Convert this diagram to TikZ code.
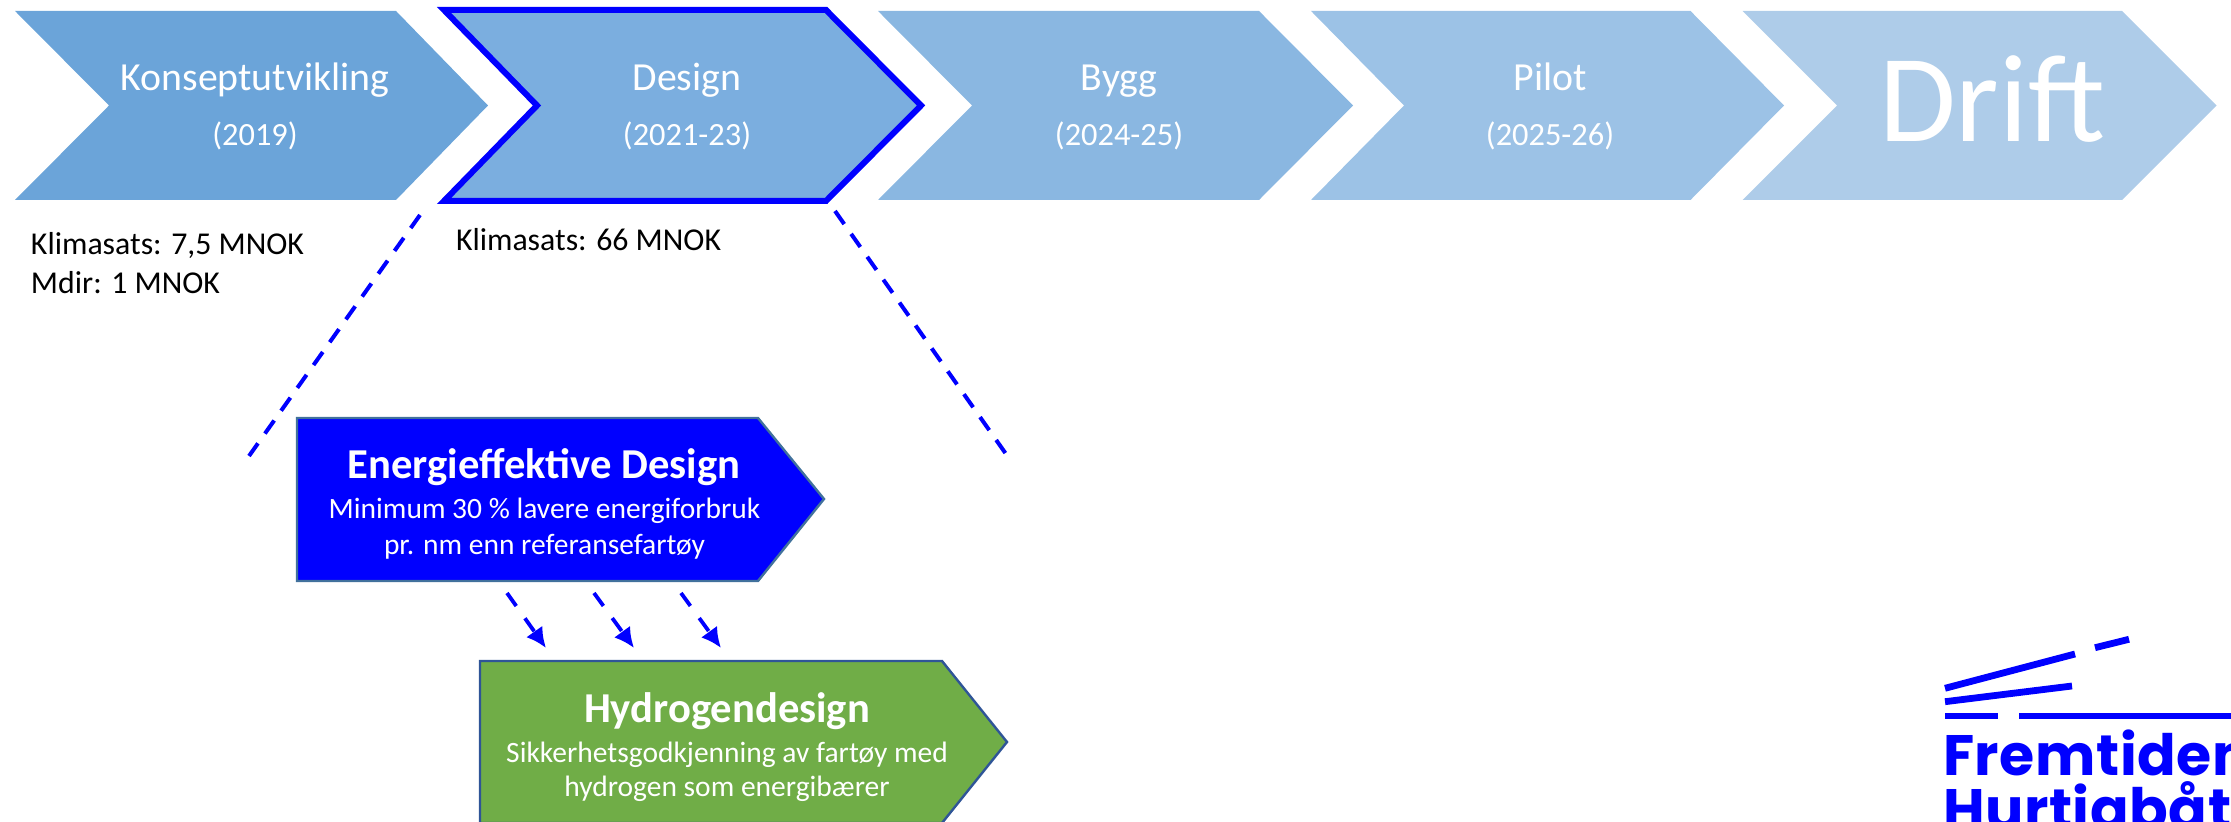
\documentclass[tikz,border=0pt]{standalone}
\usepackage{fontspec}
\setmainfont{Carlito}
\newfontfamily\logofont[LetterSpace=1]{Poppins}
\usetikzlibrary{arrows.meta}
\definecolor{cA}{HTML}{6BA4D9}
\definecolor{cB}{HTML}{7BAEDF}
\definecolor{cC}{HTML}{8AB7E1}
\definecolor{cD}{HTML}{9CC2E6}
\definecolor{cE}{HTML}{AECCE9}
\definecolor{cG}{HTML}{70AD47}
\definecolor{pureblue}{HTML}{0000FF}
\definecolor{edgeA}{HTML}{41719C}
\definecolor{edgeB}{HTML}{2F5597}
\tikzset{
  x=0.5pt,y=-0.5pt,
  white text/.style={text=white,anchor=base,inner sep=0pt,outer sep=0pt},
  head/.style={white text,font=\fontsize{19.9}{19.9}\selectfont},
  years/.style={white text,font=\fontsize{16.2}{16.2}\selectfont},
  ttl/.style={white text,font=\fontsize{21.3}{21.3}\selectfont\bfseries},
  subt/.style={white text,font=\fontsize{14.75}{14.75}\selectfont},
  note/.style={text=black,anchor=base west,inner sep=0pt,outer sep=0pt,font=\fontsize{15.9}{15.9}\selectfont},
  zoomline/.style={draw=pureblue,line width=2pt,dash pattern=on 8pt off 6pt},
  flow/.style={draw=pureblue,line width=1.9pt,dash pattern=on 8pt off 7.5pt,-{Latex[length=10pt,width=10pt]}},
  logobar/.style={draw=pureblue,line width=3.4pt},
  logotext/.style={text=pureblue,anchor=base west,inner sep=0pt,outer sep=0pt,font=\logofont\bfseries\fontsize{28.5}{28.5}\selectfont},
}
\begin{document}
\begin{tikzpicture}
\useasboundingbox (0,0) rectangle (2231,822);
\clip (0,0) rectangle (2231,822);
% chevrons
\fill[cA] (15,11) -- (396,11) -- (488,105.5) -- (396,200) -- (15,200) -- (109,105.5) -- cycle;
\filldraw[fill=cB,draw=pureblue,line width=3pt,miter limit=10] (444,10) -- (826,10) -- (921,105.5) -- (826,201) -- (444,201) -- (537,105.5) -- cycle;
\fill[cC] (878,11) -- (1259,11) -- (1353,105.5) -- (1259,200) -- (878,200) -- (972,105.5) -- cycle;
\fill[cD] (1311,11) -- (1690.5,11) -- (1784,105.5) -- (1690.5,200) -- (1311,200) -- (1404,105.5) -- cycle;
\fill[cE] (1742.5,11) -- (2122,11) -- (2216.5,105.5) -- (2122,200) -- (1742.5,200) -- (1837,105.5) -- cycle;
% chevron texts
\node[head]  (konsept)  at (255,91) {Konseptutvikling};
\node[years] (konseptY) at (255,146) {(2019)};
\node[head]  (design)   at (687,91) {Design};
\node[years] (designY)  at (687,146) {(2021-23)};
\node[head]  (bygg)     at (1119,91) {Bygg};
\node[years] (byggY)    at (1119,146) {(2024-25)};
\node[head]  (pilot)    at (1550,91) {Pilot};
\node[years] (pilotY)   at (1550,146) {(2025-26)};
\node[white text,font=\fontsize{62.4}{62.4}\selectfont] (drift) at (1992,142) {Drift};
% funding notes
\node[note] (noteA) at (31,255) {Klimasats: 7,5 MNOK};
\node[note] (noteB) at (31,294) {Mdir: 1 MNOK};
\node[note] (noteC) at (456,251) {Klimasats: 66 MNOK};
% zoom lines
\coordinate (zlA) at (420,215);
\coordinate (zlB) at (249,456);
\coordinate (zrA) at (835,211);
\coordinate (zrB) at (1006,454);
\draw[zoomline] (zlA) -- (zlB);
\draw[zoomline] (zrA) -- (zrB);
% detail boxes
\filldraw[fill=pureblue,draw=edgeA,line width=1.2pt] (297,418) -- (758,418) -- (824,499) -- (758,581) -- (297,581) -- cycle;
\node[ttl]  (enT) at (544,479) {Energieffektive Design};
\node[subt] (enA) at (544.5,519) {Minimum 30 \% lavere energiforbruk};
\node[subt] (enB) at (544.5,555) {pr. nm enn referansefartøy};
\filldraw[fill=cG,draw=edgeB,line width=1.2pt] (480,661) -- (942,661) -- (1007,742) -- (942,823) -- (480,823) -- cycle;
\node[ttl]  (hyT) at (727,722) {Hydrogendesign};
\node[subt] (hyA) at (727,762) {Sikkerhetsgodkjenning av fartøy med};
\node[subt] (hyB) at (727,796) {hydrogen som energibærer};
% flow arrows
\coordinate (fa1) at (507,593); \coordinate (fb1) at (546,648);
\coordinate (fa2) at (594,593); \coordinate (fb2) at (634,648);
\coordinate (fa3) at (681,593); \coordinate (fb3) at (721,648);
\draw[flow] (fa1) -- (fb1);
\draw[flow] (fa2) -- (fb2);
\draw[flow] (fa3) -- (fb3);
% logo
\draw[logobar] (1945,688.3) -- (2075,654);
\draw[logobar] (2095,647.7) -- (2129,639.3);
\draw[logobar] (1945,701.7) -- (2072,686);
\draw[logobar] (1945,716) -- (1998,716);
\draw[logobar] (2019,716) -- (2240,716);
\node[logotext] (logoA) at (1943,775) {Fremtidens};
\node[logotext] (logoB) at (1943,829) {Hurtigbåt};
\end{tikzpicture}
\end{document}
